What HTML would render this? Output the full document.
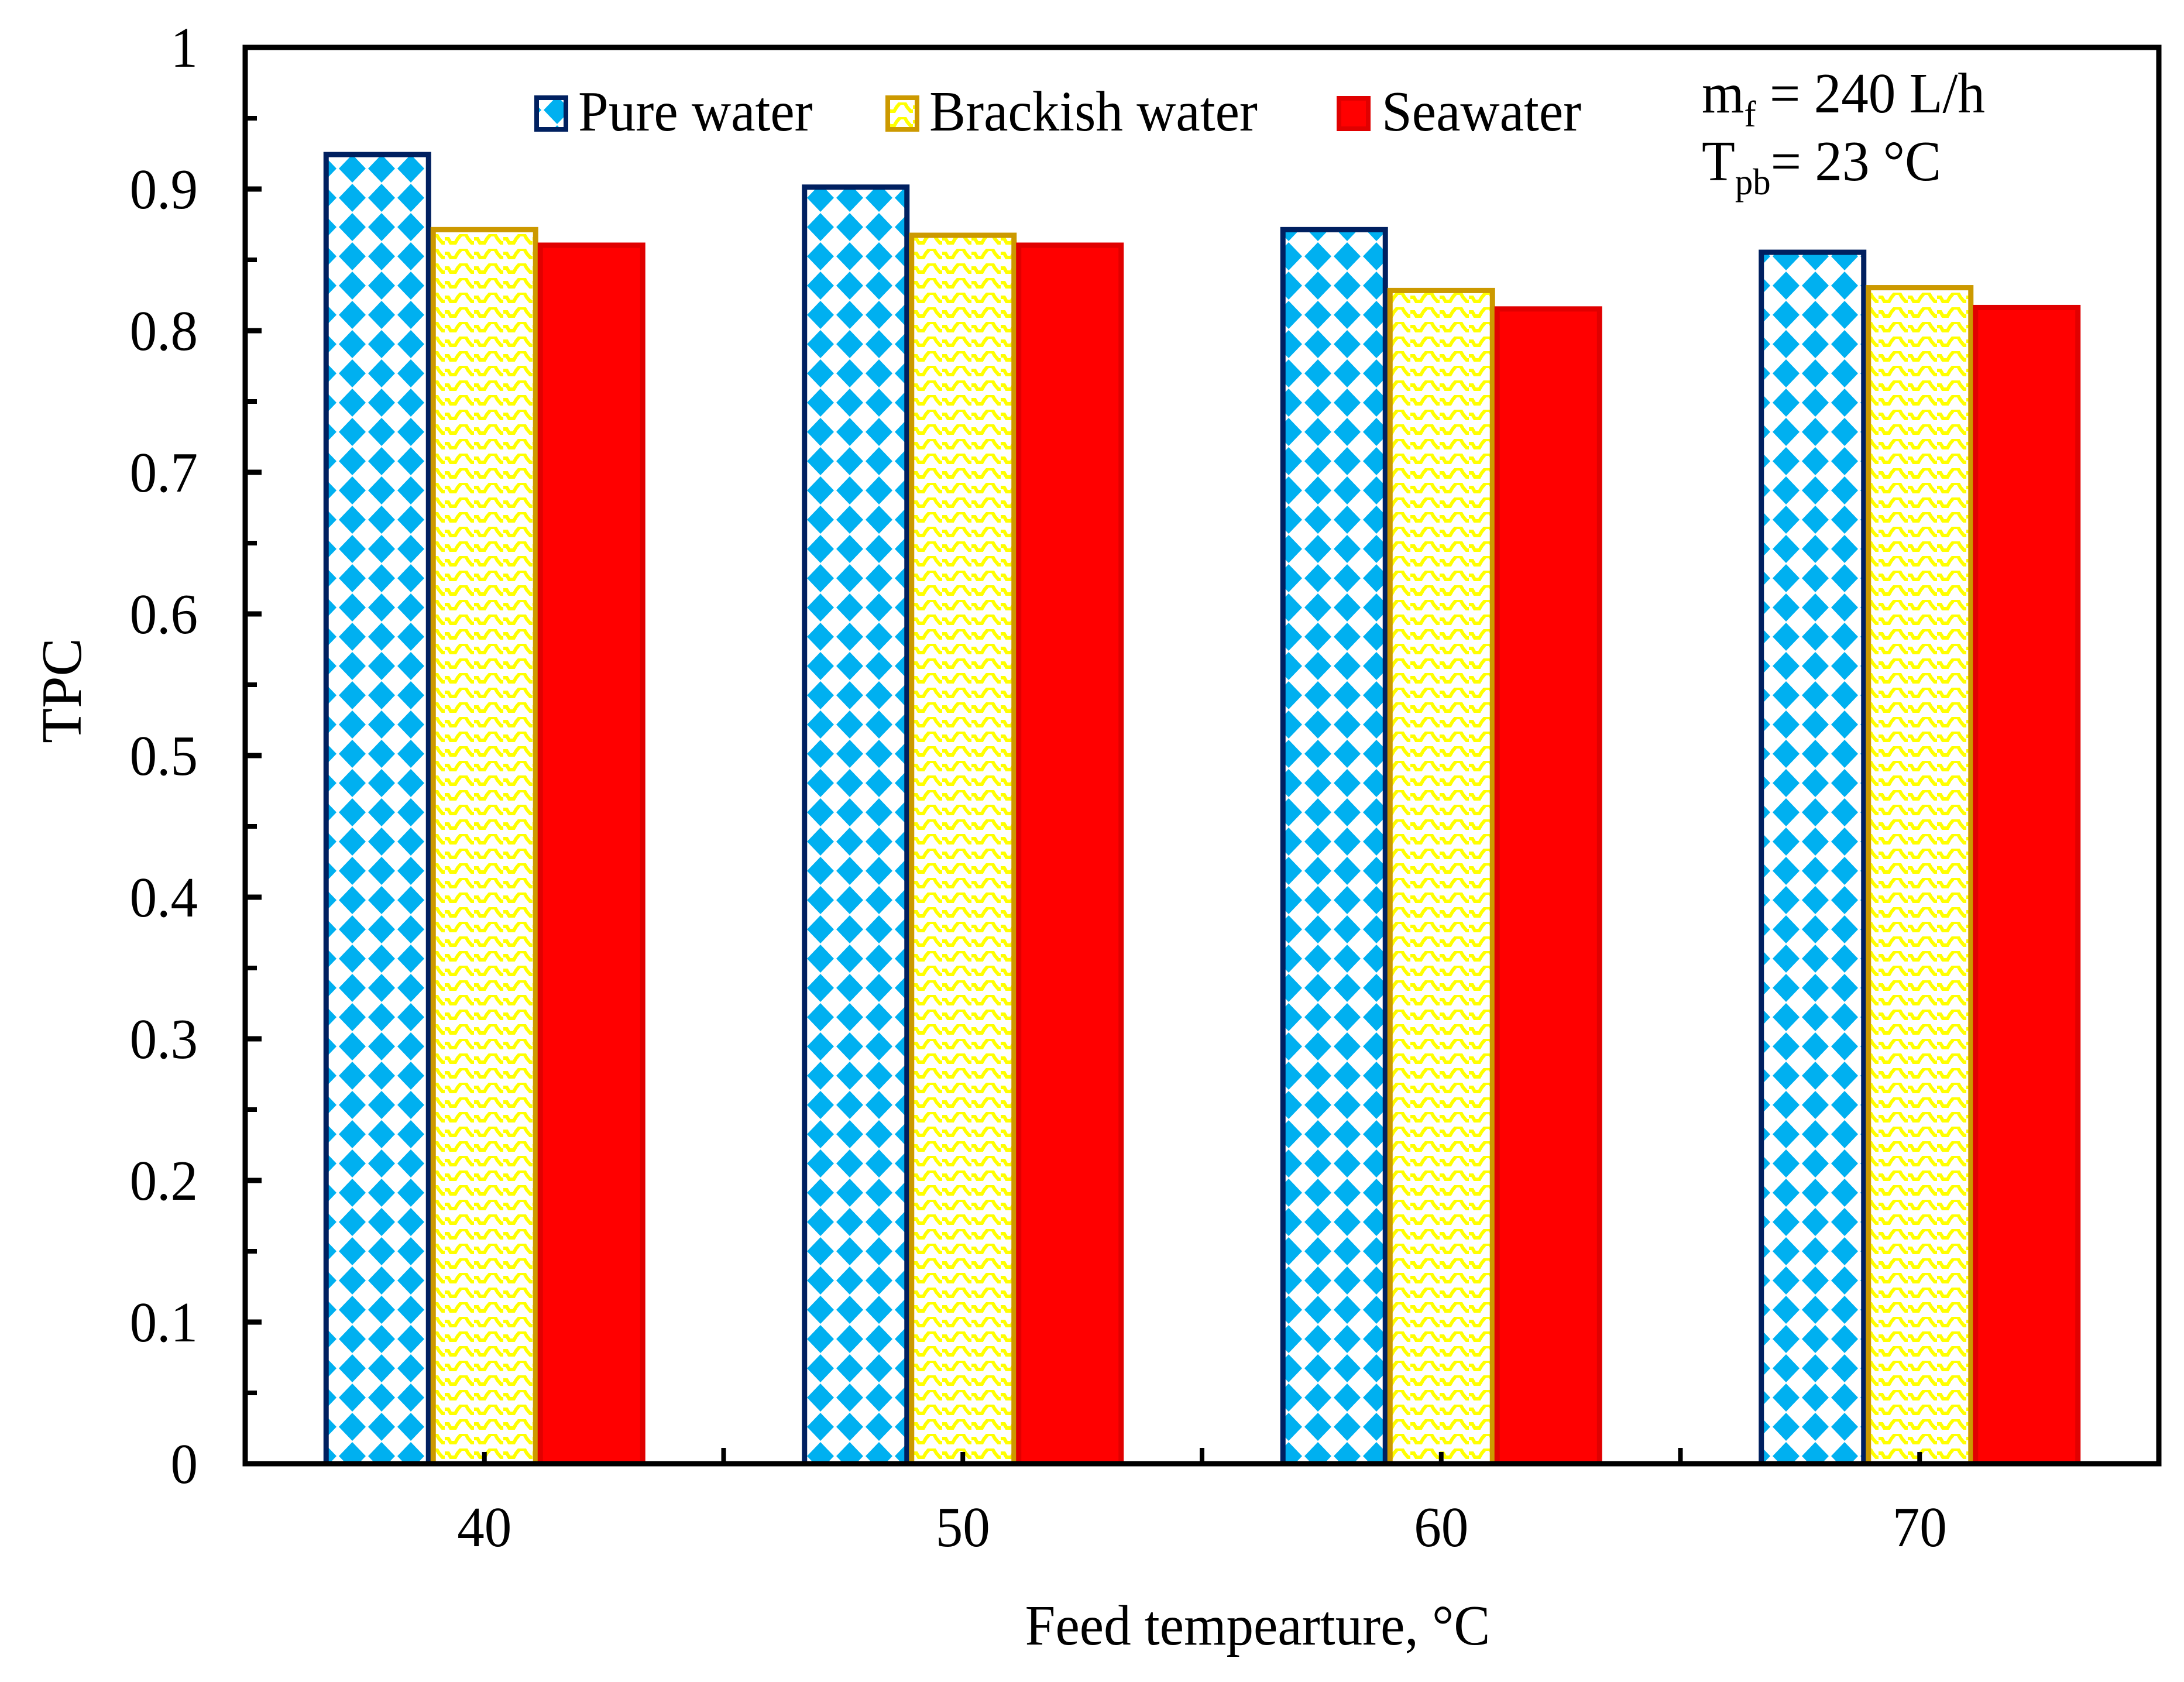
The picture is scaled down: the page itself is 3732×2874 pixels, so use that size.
<!DOCTYPE html>
<html><head><meta charset="utf-8"><style>
html,body{margin:0;padding:0;background:#fff}
svg{display:block}
text{font-family:"Liberation Serif",serif;fill:#000}
</style></head><body>
<svg id="chart" width="3732" height="2874" viewBox="0 0 3732 2874" xmlns="http://www.w3.org/2000/svg">
<defs>
<pattern id="pDiamond" patternUnits="userSpaceOnUse" x="577" y="263" width="50" height="50">
<polygon points="25,1 48,25 25,49 2,25" fill="#00B0F0"/>
</pattern>
<pattern id="pZig" patternUnits="userSpaceOnUse" x="560" y="0" width="50" height="25">
<polyline points="0,8 6,8 10,15 18,15 22,8 28,1 36,1 40,8 46,15 50,15" fill="none" stroke="#FFFF00" stroke-width="6"/>
</pattern>
</defs>
<g id="bars"></g>
<g id="axes"></g>
<g>
<rect x="917" y="167" width="50" height="54" fill="url(#pDiamond)" stroke="#002060" stroke-width="8"/>
<text x="988" y="223" font-size="98">Pure water</text>
<rect x="1517" y="167" width="50" height="54" fill="url(#pZig)" stroke="#CC9900" stroke-width="8"/>
<text x="1588" y="223" font-size="98">Brackish water</text>
<rect x="2288" y="168" width="50" height="52" fill="#FF0000" stroke="#E00000" stroke-width="8"/>
<text x="2361" y="223" font-size="98">Seawater</text>
</g>
<text x="2908" y="192" font-size="98">m<tspan font-size="64" dy="24">f</tspan><tspan dy="-24"> = 240 L/h</tspan></text>
<text x="2908" y="308" font-size="98">T<tspan font-size="64" dy="24">pb</tspan><tspan dy="-24">= 23 °C</tspan></text>
<text font-size="98" text-anchor="middle" transform="translate(138,1180) rotate(-90)">TPC</text>
<text x="2149" y="2810" font-size="98" text-anchor="middle">Feed tempearture, °C</text>
</svg>
<script>
const categories = ["40","50","60","70"];
const pureWater = [0.926, 0.903, 0.873, 0.857];
const brackishWater = [0.873, 0.869, 0.830, 0.832];
const seawater = [0.862, 0.862, 0.817, 0.818];
const yTicks = [0,0.1,0.2,0.3,0.4,0.5,0.6,0.7,0.8,0.9,1];
const yTickLabels = ["0","0.1","0.2","0.3","0.4","0.5","0.6","0.7","0.8","0.9","1"];

const NS = "http://www.w3.org/2000/svg";
const L = 419, R = 3689, T = 81, B = 2501;
const catW = (R - L) / categories.length;
const barW = 183;
function yScale(v){ return B - v * (B - T); }
function xCenter(i){ return L + catW * (i + 0.5); }
function mk(tag, attrs, parent){ const e = document.createElementNS(NS, tag); for (const k in attrs) e.setAttribute(k, attrs[k]); parent.appendChild(e); return e; }

const bars = document.getElementById('bars');
const series = [
  {vals: pureWater, fill: 'url(#pDiamond)', stroke: '#002060', name: 'pure-water'},
  {vals: brackishWater, fill: 'url(#pZig)', stroke: '#CC9900', name: 'brackish-water'},
  {vals: seawater, fill: '#FF0000', stroke: '#E00000', name: 'seawater'}
];
series.forEach((s, si) => {
  s.vals.forEach((v, i) => {
    const x = xCenter(i) - 1.5 * barW + si * barW;
    const y = yScale(v);
    const r = mk('rect', {x: x + 4, y: y + 4, width: barW - 8, height: B - y - 4, fill: s.fill, stroke: s.stroke, 'stroke-width': 9}, bars);
    
    
  });
});

const axes = document.getElementById('axes');
const frame = mk('rect', {x: L, y: T, width: R - L, height: B - T, fill: 'none', stroke: '#000', 'stroke-width': 9}, axes);


yTicks.forEach((v, i) => {
  const y = yScale(v);
  const t = mk('line', {x1: L, x2: L + 28, y1: y, y2: y, stroke: '#000', 'stroke-width': 9}, axes);
  
  
  if (i < yTicks.length - 1) {
    const ym = yScale(v + 0.05);
    const m = mk('line', {x1: L, x2: L + 20, y1: ym, y2: ym, stroke: '#000', 'stroke-width': 8}, axes);
    
    
  }
  const lb = mk('text', {x: 338, y: y + 33, 'font-size': 98, 'text-anchor': 'end'}, axes);
  lb.textContent = yTickLabels[i];
  
  
});
categories.forEach((c, i) => {
  const xc = xCenter(i);
  const t = mk('line', {x1: xc, x2: xc, y1: B, y2: B - 20, stroke: '#000', 'stroke-width': 8}, axes);
  
  
  if (i > 0) {
    const xb = L + catW * i;
    const b = mk('line', {x1: xb, x2: xb, y1: B, y2: B - 27, stroke: '#000', 'stroke-width': 8}, axes);
    
    
  }
  const lb = mk('text', {x: xc, y: 2642, 'font-size': 98, 'text-anchor': 'middle'}, axes);
  lb.textContent = c;
  
  
});
// condense glyphs slightly to match reference typeface proportions
document.querySelectorAll('text').forEach(t => {
  if (t.getAttribute('transform')) return;
  t.setAttribute('textLength', '');
  t.removeAttribute('textLength');
  const bb = t.getBBox();
  const anchorX = t.getAttribute('text-anchor') === 'end' ? bb.x + bb.width : (t.getAttribute('text-anchor') === 'middle' ? bb.x + bb.width / 2 : bb.x);
  t.setAttribute('transform', 'translate(' + anchorX + ',0) scale(0.95,1) translate(' + (-anchorX) + ',0)');
});
</script>
</body></html>
